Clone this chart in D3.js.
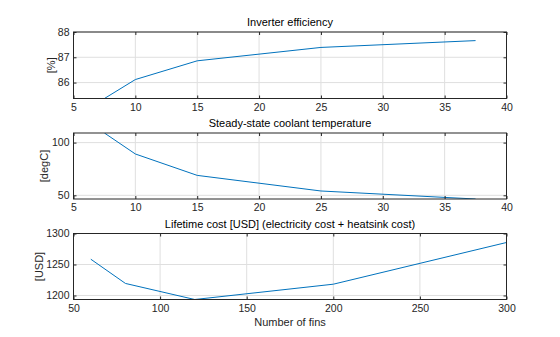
<!DOCTYPE html>
<html>
<head>
<meta charset="utf-8">
<script src="https://cdn.jsdelivr.net/npm/d3@7"></script>
<style>
  body { margin: 0; background: #fff; }
  svg { display: block; font-family: "Liberation Sans", Arial, sans-serif; }
</style>
</head>
<body>
<svg id="chart" width="560" height="337"></svg>
<script>
// Fin counts and the derived spacing variable used by the upper two panels
const finCounts = [60, 80, 120, 200, 300];
const finParam = [7.5, 10, 15, 25, 37.5];

// Series values
const efficiency = [85.37, 86.12, 86.86, 87.39, 87.66];       // [%]
const coolantTemp = [109.1, 89.2, 68.9, 54.1, 46.5];          // [degC]
const lifetimeCost = [1258.5, 1219.4, 1193.5, 1218.2, 1285.5]; // [USD]

// Axis tick labels
const ticksTop = [5, 10, 15, 20, 25, 30, 35, 40];
const ticksBottom = [50, 100, 150, 200, 250, 300];
const effTicks = [86, 87, 88];
const tempTicks = [50, 100];
const costTicks = [1200, 1250, 1300];

const panels = [
  { title: "Inverter efficiency", ylabel: "[%]", x: finParam, y: efficiency,
    xdom: [5, 40], ydom: [85.37, 88], xticks: ticksTop, yticks: effTicks,
    top: 32, bottom: 98.5, ylabelX: 52 },
  { title: "Steady-state coolant temperature", ylabel: "[degC]", x: finParam, y: coolantTemp,
    xdom: [5, 40], ydom: [46.5, 109.1], xticks: ticksTop, yticks: tempTicks,
    top: 133, bottom: 199, ylabelX: 45 },
  { title: "Lifetime cost [USD] (electricity cost + heatsink cost)", ylabel: "[USD]", x: finCounts, y: lifetimeCost,
    xdom: [50, 300], ydom: [1193.5, 1300], xticks: ticksBottom, yticks: costTicks,
    top: 233.5, bottom: 299.5, ylabelX: 40, xlabel: "Number of fins" }
];

const left = 73.5, right = 506.5;
const svg = d3.select("#chart");
const axisColor = "#262626";
const tickLen = 3;

panels.forEach((p, i) => {
  const x = d3.scaleLinear().domain(p.xdom).range([left, right]);
  const y = d3.scaleLinear().domain(p.ydom).range([p.bottom, p.top]);
  const g = svg.append("g");

  // grid
  g.append("g").selectAll("line.gx").data(p.xticks).join("line")
    .attr("x1", d => x(d)).attr("x2", d => x(d))
    .attr("y1", p.top).attr("y2", p.bottom)
    .attr("stroke", "#dfdfdf").attr("stroke-width", 1);
  g.append("g").selectAll("line.gy").data(p.yticks).join("line")
    .attr("x1", left).attr("x2", right)
    .attr("y1", d => y(d)).attr("y2", d => y(d))
    .attr("stroke", "#dfdfdf").attr("stroke-width", 1);

  // data line, clipped to the axes box
  const clipId = "clip" + i;
  svg.append("clipPath").attr("id", clipId).append("rect")
    .attr("x", left).attr("y", p.top).attr("width", right - left).attr("height", p.bottom - p.top);
  const line = d3.line().x(d => x(d[0])).y(d => y(d[1]));
  g.append("path")
    .datum(p.x.map((v, k) => [v, p.y[k]]))
    .attr("d", line)
    .attr("fill", "none")
    .attr("stroke", "#0072BD")
    .attr("stroke-width", 1)
    .attr("clip-path", `url(#${clipId})`);

  // axes (ticks inward on all four sides)
  const xb = d3.axisBottom(x).tickValues(p.xticks).tickSizeInner(-tickLen).tickSizeOuter(0).tickPadding(5).tickFormat(d3.format("d"));
  const xt = d3.axisTop(x).tickValues(p.xticks).tickSizeInner(-tickLen).tickSizeOuter(0).tickFormat("");
  const yl = d3.axisLeft(y).tickValues(p.yticks).tickSizeInner(-tickLen).tickSizeOuter(0).tickPadding(4).tickFormat(d3.format("d"));
  const yr = d3.axisRight(y).tickValues(p.yticks).tickSizeInner(-tickLen).tickSizeOuter(0).tickFormat("");

  [[xb, `translate(0,${p.bottom})`], [xt, `translate(0,${p.top})`],
   [yl, `translate(${left},0)`], [yr, `translate(${right},0)`]].forEach(([ax, tr]) => {
    const a = g.append("g").attr("transform", tr).call(ax);
    a.select(".domain").remove();
    a.selectAll(".tick line").attr("stroke", axisColor);
    a.selectAll(".tick text").attr("fill", axisColor).style("font-size", "10.5px").style("font-family", "Liberation Sans, Arial, sans-serif");
  });

  // box
  g.append("rect").attr("x", left).attr("y", p.top)
    .attr("width", right - left).attr("height", p.bottom - p.top)
    .attr("fill", "none").attr("stroke", axisColor).attr("stroke-width", 1);

  // title
  g.append("text").attr("x", (left + right) / 2).attr("y", p.top - 6)
    .attr("text-anchor", "middle").attr("fill", "#000")
    .style("font-size", "11px").text(p.title);

  // y label
  g.append("text")
    .attr("transform", `translate(${p.ylabelX},${(p.top + p.bottom) / 2}) rotate(-90)`)
    .attr("text-anchor", "middle").attr("dominant-baseline", "middle")
    .attr("fill", axisColor).style("font-size", "11px").text(p.ylabel);

  if (p.xlabel) {
    g.append("text").attr("x", (left + right) / 2).attr("y", 326)
      .attr("text-anchor", "middle").attr("fill", axisColor)
      .style("font-size", "11px").text(p.xlabel);
  }
});
</script>
</body>
</html>
